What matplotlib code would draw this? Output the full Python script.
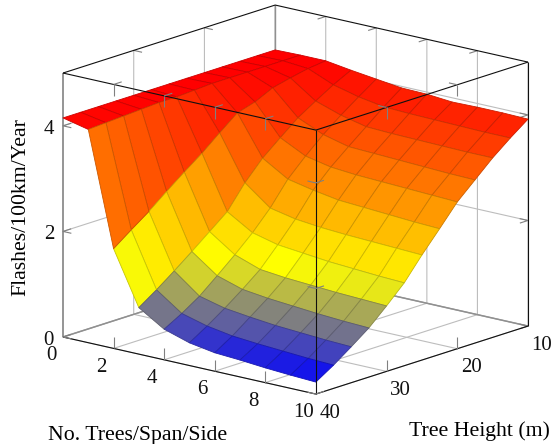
import numpy as np
import matplotlib
matplotlib.use('Agg')
import matplotlib.pyplot as plt
from matplotlib.colors import LinearSegmentedColormap, Normalize
from mpl_toolkits.mplot3d import proj3d

plt.rcParams['font.family'] = ['Liberation Serif', 'DejaVu Serif']

tree_counts = [0, 1, 2, 3, 4, 5, 6, 7, 8, 9, 10]
tree_heights = [10, 12.5, 15, 17.5, 20, 22.5, 25, 27.5, 30, 32.5, 35, 37.5, 40]

# one list per tree count, going from height 10 to height 40
flashes_t0 = [4.15, 4.15, 4.15, 4.15, 4.15, 4.15, 4.15, 4.15, 4.15, 4.15, 4.15, 4.15, 4.15]
flashes_t1 = [4.16, 4.16, 4.16, 4.16, 4.16, 4.16, 4.14, 4.12, 4.12, 4.10, 4.08, 4.06, 4.04]
flashes_t2 = [4.16, 4.12, 4.05, 3.97, 3.81, 3.71, 3.44, 3.16, 2.91, 2.65, 2.38, 2.14, 1.89]
flashes_t3 = [4.09, 3.92, 3.72, 3.51, 3.24, 2.96, 2.60, 2.16, 1.89, 1.62, 1.36, 1.11, 0.88]
flashes_t4 = [4.03, 3.80, 3.56, 3.30, 3.00, 2.67, 2.23, 1.87, 1.56, 1.27, 0.99, 0.77, 0.58]
flashes_t5 = [3.97, 3.72, 3.45, 3.18, 2.90, 2.57, 2.13, 1.75, 1.39, 1.12, 0.87, 0.64, 0.43]
flashes_t6 = [3.96, 3.70, 3.43, 3.16, 2.86, 2.49, 2.08, 1.70, 1.34, 1.06, 0.81, 0.56, 0.35]
flashes_t7 = [3.92, 3.69, 3.42, 3.14, 2.84, 2.46, 2.05, 1.65, 1.31, 1.02, 0.76, 0.52, 0.32]
flashes_t8 = [3.93, 3.68, 3.41, 3.12, 2.82, 2.43, 2.03, 1.62, 1.28, 0.98, 0.73, 0.49, 0.28]
flashes_t9 = [3.93, 3.67, 3.40, 3.10, 2.80, 2.40, 2.01, 1.59, 1.26, 0.95, 0.70, 0.46, 0.25]
flashes_t10 = [3.92, 3.67, 3.40, 3.09, 2.78, 2.38, 1.99, 1.57, 1.24, 0.93, 0.68, 0.44, 0.227]

x_ticks = [0, 2, 4, 6, 8, 10]
y_ticks = [10, 20, 30, 40]
z_ticks = [0, 2, 4]

W, H = 553, 444
XMIN, XMAX = 0, 10
YNEAR, YFAR = 40, 10
ZMIN, ZMAX = 0, 5

Z = np.array([flashes_t0, flashes_t1, flashes_t2, flashes_t3, flashes_t4, flashes_t5,
              flashes_t6, flashes_t7, flashes_t8, flashes_t9, flashes_t10]).T
X, Y = np.meshgrid(tree_counts, tree_heights)

fig = plt.figure(figsize=(W / 100, H / 100), dpi=100)
ax = fig.add_axes([0, 0, 1, 1], projection='3d', proj_type='ortho', computed_zorder=False)
ax.set_xlim(XMIN, XMAX, view_margin=0)
ax.set_ylim(YNEAR, YFAR, view_margin=0)
ax.set_zlim(ZMIN, ZMAX, view_margin=0)
ax.view_init(elev=15.6, azim=-50)
ax.set_axis_off()


def to_2d(x, y, z):
    px, py, _ = proj3d.proj_transform(x, y, z, ax.get_proj())
    return px, py


def corner_px(x, y, z):
    return ax.transData.transform(to_2d(x, y, z))


# scale and shift the box so its corners land where the reference has them
aspect = (330, 330, 274)
ax.set_box_aspect(aspect, zoom=1)
ax.apply_aspect()
span = corner_px(XMAX, YFAR, ZMIN)[0] - corner_px(XMIN, YNEAR, ZMIN)[0]
ax.set_box_aspect(aspect, zoom=465 / span)
ax.apply_aspect()
left = corner_px(XMIN, YNEAR, ZMIN)
ax.set_position([(63 - left[0]) / W, (H - 337 - left[1]) / H, 1, 1])
ax.apply_aspect()

GRID = '#bdbdbd'
TICK = '#808080'
BLACK = '#101010'


def line(xs, ys, zs, color, lw=0.8, zorder=1):
    ax.plot(xs, ys, zs, color=color, lw=lw, zorder=zorder, solid_capstyle='butt', clip_on=False)


# grid on the floor and the two back walls
for x in x_ticks:
    line([x, x, x], [YNEAR, YFAR, YFAR], [ZMIN, ZMIN, ZMAX], GRID)
for y in y_ticks:
    line([XMAX, XMIN, XMIN], [y, y, y], [ZMIN, ZMIN, ZMAX], GRID)
for z in z_ticks:
    line([XMIN, XMIN, XMAX], [YNEAR, YFAR, YFAR], [z, z, z], GRID)

line([XMIN, XMIN], [YNEAR, YNEAR], [ZMIN, ZMAX], '#909090', lw=1.3, zorder=2)
line([XMIN, XMIN, XMAX], [YNEAR, YFAR, YFAR], [ZMIN, ZMIN, ZMIN], '#909090', lw=1.1, zorder=2)
line([XMIN, XMIN], [YFAR, YFAR], [ZMIN, ZMAX], '#909090', lw=1.0, zorder=2)
line([XMIN, XMIN, XMAX], [YNEAR, YFAR, YFAR], [ZMAX, ZMAX, ZMAX], BLACK, zorder=3)
line([XMAX, XMAX], [YFAR, YFAR], [ZMIN, ZMAX], BLACK, zorder=3)
line([XMIN, XMAX, XMAX], [YNEAR, YNEAR, YFAR], [ZMIN, ZMIN, ZMIN], BLACK, zorder=3)

# surface, coloured by the mean of each cell like the pgfplots hot map
hot = LinearSegmentedColormap.from_list('hot', ['#0000ff', '#ffff00', '#ff8000', '#ff0000'])
norm = Normalize(Z.min(), Z.max())
cell_mean = (Z[:-1, :-1] + Z[1:, :-1] + Z[:-1, 1:] + Z[1:, 1:]) / 4
faces = hot(norm(cell_mean))
edges = faces.copy()
edges[..., :3] *= 0.8
surf = ax.plot_surface(X, Y, Z, rstride=1, cstride=1, facecolors=faces, shade=False,
                       linewidth=0.6, zorder=5)
surf.set_edgecolor(edges.reshape(-1, 4))
surf.set_clip_on(False)

# front edges run over the surface
line([XMIN, XMAX, XMAX], [YNEAR, YNEAR, YFAR], [ZMAX, ZMAX, ZMAX], BLACK, zorder=8)
line([XMAX, XMAX], [YNEAR, YNEAR], [ZMIN, ZMAX], BLACK, zorder=8)

DZ, DX, DY = 0.22, 0.33, 1.15
for x in x_ticks[1:-1]:
    line([x, x], [YNEAR, YNEAR], [ZMAX, ZMAX - DZ], TICK, zorder=9)
    line([x, x], [YNEAR, YNEAR - DY], [ZMAX, ZMAX], TICK, zorder=9)
    line([x, x], [YFAR, YFAR + DY], [ZMAX, ZMAX], TICK, zorder=2)
    line([x, x], [YNEAR, YNEAR], [ZMIN, ZMIN + DZ], TICK, zorder=4)
for y in y_ticks[1:-1]:
    line([XMAX, XMAX], [y, y], [ZMAX, ZMAX - DZ], TICK, zorder=9)
    line([XMAX, XMAX - DX], [y, y], [ZMAX, ZMAX], TICK, zorder=9)
    line([XMIN, XMIN + DX], [y, y], [ZMAX, ZMAX], TICK, zorder=2)
    line([XMAX, XMAX], [y, y], [ZMIN, ZMIN + DZ], TICK, zorder=4)
for z in z_ticks:
    line([XMIN + DX, XMIN, XMIN], [YNEAR, YNEAR, YNEAR - DY], [z, z, z], TICK, zorder=4)
    line([XMAX - DX, XMAX, XMAX], [YNEAR, YNEAR, YNEAR - DY], [z, z, z], TICK, zorder=9)
    line([XMAX - DX, XMAX, XMAX], [YFAR, YFAR, YFAR + DY], [z, z, z], TICK, zorder=2)

FS = 15


def tick_label(x, y, z, text):
    px, py = to_2d(x, y, z)
    ax.text2D(px, py, text, transform=ax.transData, fontsize=FS, ha='center', va='center', color='#111111')


for x in x_ticks:
    tick_label(x, YNEAR + 1.7, ZMIN - 0.28, str(x))
for y in y_ticks:
    tick_label(XMAX + 0.55, y, ZMIN - 0.305, str(y))
for z in z_ticks:
    tick_label(XMIN, YNEAR + 2, z + 0.02, str(z))

fig.text(137.5 / W, 1 - 435 / H, 'No. Trees/Span/Side', fontsize=15.7, ha='center', va='center')
fig.text(479 / W, 1 - 431 / H, 'Tree Height (m)', fontsize=15.7, ha='center', va='center')
fig.text(20.5 / W, 1 - 207.5 / H, 'Flashes/100km/Year', fontsize=15.7, ha='center', va='center', rotation=90)

fig.savefig('out.png', dpi=100)
